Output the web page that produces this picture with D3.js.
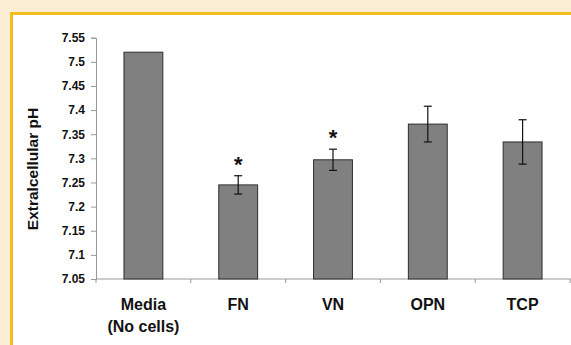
<!DOCTYPE html>
<html>
<head>
<meta charset="utf-8">
<script src="https://cdn.jsdelivr.net/npm/d3@7"></script>
<style>
  html, body { margin: 0; padding: 0; background: #fbeed4; }
  svg { display: block; }
  text { font-family: "Liberation Sans", Arial, sans-serif; font-weight: bold; fill: #111; }
</style>
</head>
<body>
<script>
// Extracellular pH per substrate condition
const categories = ["Media|(No cells)", "FN", "VN", "OPN", "TCP"];
const phValues = [7.52, 7.245, 7.297, 7.371, 7.334];
const phErrors = [0, 0.019, 0.022, 0.037, 0.046];
const significant = [false, true, true, false, false];
const yTicks = [7.05, 7.1, 7.15, 7.2, 7.25, 7.3, 7.35, 7.4, 7.45, 7.5, 7.55];

const W = 571, H = 345;
const svg = d3.select("body").append("svg").attr("width", W).attr("height", H);

// page frame: cream background, yellow rule, white panel
svg.append("rect").attr("x", 0).attr("y", 0).attr("width", W).attr("height", H).attr("fill", "#fbeed4");
svg.append("rect").attr("x", 10).attr("y", 12).attr("width", W - 10).attr("height", H - 12).attr("fill", "#f2bd1e");
svg.append("rect").attr("x", 13).attr("y", 15).attr("width", W - 13).attr("height", H - 15).attr("fill", "#ffffff");

const x0 = 96, x1 = 570, yTop = 37.7, yBot = 279;
const x = d3.scaleBand().domain(categories).range([x0, x1]).paddingInner(0.59).paddingOuter(0.295);
const y = d3.scaleLinear().domain([7.05, 7.55]).range([yBot, yTop]);

// y axis
const yAxis = svg.append("g").attr("transform", `translate(${x0},0)`)
  .call(d3.axisLeft(y).tickValues(yTicks).tickSize(5).tickPadding(6).tickFormat(d3.format("")));
yAxis.select(".domain").attr("stroke", "#999");
yAxis.selectAll(".tick line").attr("stroke", "#999");
yAxis.selectAll(".tick text").attr("font-size", 12).style("font-family", "Liberation Sans, Arial, sans-serif").style("font-weight", "bold").attr("fill", "#111");

// x axis line with category dividers
const band = (x1 - x0) / categories.length;
svg.append("line").attr("x1", x0).attr("x2", W).attr("y1", yBot).attr("y2", yBot).attr("stroke", "#999");
svg.selectAll("line.div").data(d3.range(categories.length + 1)).join("line")
  .attr("class", "div")
  .attr("x1", i => x0 + i * band).attr("x2", i => x0 + i * band)
  .attr("y1", yBot).attr("y2", yBot + 4).attr("stroke", "#999");

// bars
svg.selectAll("rect.bar").data(categories).join("rect")
  .attr("class", "bar")
  .attr("x", d => x(d))
  .attr("y", (d, i) => y(phValues[i]))
  .attr("width", x.bandwidth())
  .attr("height", (d, i) => yBot - y(phValues[i]))
  .attr("fill", "#808080").attr("stroke", "#2e2e2e").attr("stroke-width", 1);

// error bars and significance markers
const eb = svg.append("g").attr("stroke", "#111").attr("stroke-width", 1.2);
categories.forEach((c, i) => {
  if (!phErrors[i]) return;
  const cx = x(c) + x.bandwidth() / 2;
  const hi = y(phValues[i] + phErrors[i]), lo = y(phValues[i] - phErrors[i]);
  eb.append("line").attr("x1", cx).attr("x2", cx).attr("y1", hi).attr("y2", lo);
  eb.append("line").attr("x1", cx - 4).attr("x2", cx + 4).attr("y1", hi).attr("y2", hi);
  eb.append("line").attr("x1", cx - 4).attr("x2", cx + 4).attr("y1", lo).attr("y2", lo);
  if (significant[i]) {
    svg.append("text").attr("x", cx).attr("y", hi - 4)
      .attr("text-anchor", "middle").attr("font-size", 22)
      .text("*");
  }
});

// category labels
categories.forEach(c => {
  const cx = x(c) + x.bandwidth() / 2;
  c.split("|").forEach((line, k) => {
    svg.append("text").attr("x", cx).attr("y", 310 + k * 22)
      .attr("text-anchor", "middle").attr("font-size", 16).text(line);
  });
});

// y axis title
svg.append("text")
  .attr("transform", `translate(38,169) rotate(-90)`)
  .attr("text-anchor", "middle").attr("font-size", 15.5)
  .text("Extralcellular pH");
</script>
</body>
</html>
